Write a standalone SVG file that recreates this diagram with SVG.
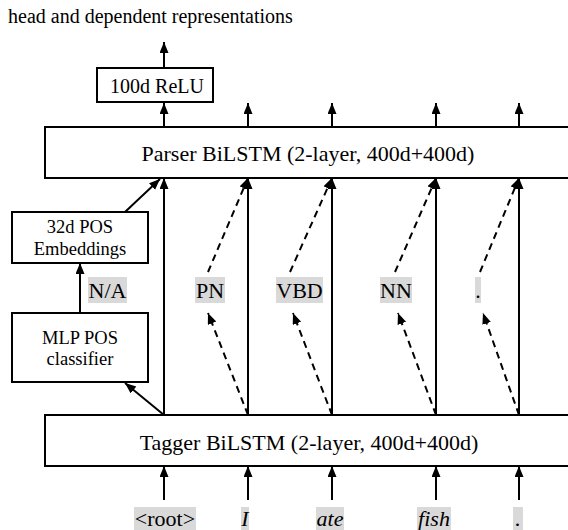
<svg xmlns="http://www.w3.org/2000/svg" width="568" height="530" viewBox="0 0 568 530">
<style>
text{font-family:"Liberation Serif","Times New Roman",serif;fill:#000}
.t20{font-size:20px}
.t22{font-size:22px;text-anchor:middle}
.t19{font-size:18.5px;text-anchor:middle}
.it{font-style:italic}
.box{fill:#fff;stroke:#000;stroke-width:2}
.hl{fill:#d9d9d9}
.ln{stroke:#000;stroke-width:2;fill:none;marker-end:url(#ah)}
.dash{stroke:#000;stroke-width:2;fill:none;stroke-dasharray:7 5;marker-end:url(#ah)}
</style>
<defs>
<marker id="ah" markerUnits="userSpaceOnUse" markerWidth="12" markerHeight="10" refX="11" refY="4.5" orient="auto">
<path d="M0,0 L11,4.5 L0,9 z" fill="#000"/>
</marker>
</defs>
<text class="t20" x="8" y="23">head and dependent representations</text>
<g id="connectors">
<line class="ln" x1="164" y1="68" x2="164" y2="42"/>
<line class="ln" x1="164" y1="127" x2="164" y2="103"/>
<line class="ln" x1="248" y1="127" x2="248" y2="103"/>
<line class="ln" x1="332" y1="127" x2="332" y2="103"/>
<line class="ln" x1="436" y1="127" x2="436" y2="103"/>
<line class="ln" x1="519" y1="127" x2="519" y2="103"/>
<line class="ln" x1="164" y1="415" x2="164" y2="178"/>
<line class="ln" x1="248" y1="415" x2="248" y2="178"/>
<line class="ln" x1="332" y1="415" x2="332" y2="178"/>
<line class="ln" x1="436" y1="415" x2="436" y2="178"/>
<line class="ln" x1="519" y1="415" x2="519" y2="178"/>
<line class="ln" x1="125" y1="212" x2="160" y2="179"/>
<line class="ln" x1="164" y1="415" x2="125" y2="383"/>
<line class="ln" x1="80" y1="313" x2="80" y2="263"/>
<line class="dash" x1="248" y1="415" x2="208" y2="313"/>
<line class="dash" x1="208" y1="272" x2="248" y2="178"/>
<line class="dash" x1="332" y1="415" x2="293" y2="313"/>
<line class="dash" x1="290" y1="272" x2="332" y2="178"/>
<line class="dash" x1="436" y1="415" x2="398" y2="313"/>
<line class="dash" x1="395" y1="272" x2="436" y2="178"/>
<line class="dash" x1="519" y1="415" x2="483" y2="313"/>
<line class="dash" x1="480" y1="272" x2="519" y2="178"/>
<line class="ln" x1="164" y1="500" x2="164" y2="466"/>
<line class="ln" x1="248" y1="500" x2="248" y2="466"/>
<line class="ln" x1="332" y1="500" x2="332" y2="466"/>
<line class="ln" x1="436" y1="500" x2="436" y2="466"/>
<line class="ln" x1="519" y1="500" x2="519" y2="466"/>
</g>
<g id="relu">
<rect class="box" x="97" y="68" width="116" height="34"/>
<text class="t22" x="157" y="93" style="font-size:20px">100d ReLU</text>
</g>
<g id="parser">
<rect class="box" x="45" y="127" width="526" height="51"/>
<text class="t22" x="308" y="161">Parser BiLSTM (2-layer, 400d+400d)</text>
</g>
<g id="embeddings">
<rect class="box" x="12" y="212" width="136" height="51"/>
<text class="t19" x="80" y="233">32d POS</text>
<text class="t19" x="80" y="255">Embeddings</text>
</g>
<g id="mlp">
<rect class="box" x="12" y="313" width="136" height="69"/>
<text class="t19" x="80" y="344">MLP POS</text>
<text class="t19" x="80" y="365">classifier</text>
</g>
<g id="tagger">
<rect class="box" x="45" y="415" width="526" height="51"/>
<text class="t22" x="309" y="450">Tagger BiLSTM (2-layer, 400d+400d)</text>
</g>
<g id="pos-labels">
<rect class="hl" x="88" y="277" width="39" height="26"/>
<text class="t22" x="107.5" y="298">N/A</text>
<rect class="hl" x="195" y="277" width="30" height="26"/>
<text class="t22" x="210" y="298">PN</text>
<rect class="hl" x="276" y="277" width="47" height="26"/>
<text class="t22" x="299.5" y="298">VBD</text>
<rect class="hl" x="380" y="277" width="32" height="26"/>
<text class="t22" x="396" y="298">NN</text>
<rect class="hl" x="475" y="277" width="6" height="26"/>
<text class="t22" x="478" y="298">.</text>
</g>
<g id="words">
<rect class="hl" x="134" y="507" width="62" height="23"/>
<text class="t22" x="165" y="526">&lt;root&gt;</text>
<rect class="hl" x="241" y="507" width="8" height="23"/>
<text class="t22 it" x="245" y="526">I</text>
<rect class="hl" x="316" y="507" width="28" height="23"/>
<text class="t22 it" x="330" y="526">ate</text>
<rect class="hl" x="417" y="507" width="34" height="23"/>
<text class="t22 it" x="434" y="526">fish</text>
<rect class="hl" x="513" y="507" width="10" height="23"/>
<text class="t22 it" x="518" y="526">.</text>
</g>
</svg>
